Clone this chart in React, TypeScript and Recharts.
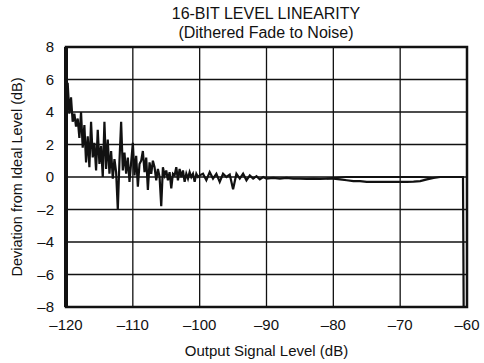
import {
  CartesianGrid,
  Line,
  LineChart,
  ReferenceArea,
  XAxis,
  YAxis,
} from "recharts";

// output level (dB) and deviation (dB) in segments
const fadeLevels = [
  -120, -119.75, -119.5, -119.25, -119, -118.75, -118.5, -118.25,
  -118, -117.75, -117.5, -117.25, -117, -116.75, -116.5, -116.25,
  -116, -115.75, -115.5, -115.25, -115, -114.75, -114.5, -114.25,
  -114, -113.75, -113.5, -113.25, -113, -112.75, -112.5, -112.25,
  -112, -111.75, -111.5, -111.25, -111, -110.75, -110.5, -110.25,
  -110, -109.75, -109.5, -109.25, -109, -108.75, -108.5, -108.25,
  -108, -107.75, -107.5, -107.25, -107, -106.75, -106.5, -106.25,
  -106, -105.75, -105.5, -105.25, -105, -104.75, -104.5, -104.25,
  -104, -103.75, -103.5, -103.25, -103, -102.75, -102.5, -102.25,
  -102, -101.75, -101.5, -101.25, -101, -100.75, -100.5, -100.25,
  -100,
];
const fadeDeviation = [
  4.2, 5.8, 3.9, 4.9, 3.4, 3.9, 3.1, 3.6,
  2.4, 4.0, 1.8, 3.2, 0.9, 2.5, 0.6, 3.4,
  1.2, 2.1, 0.4, 2.9, 0.8, 1.9, 0.0, 3.4,
  0.5, 2.3, 0.2, 1.6, -0.1, 1.1, 0.3, -2.0,
  1.0, 3.4, 0.4, 1.5, 0.2, 1.2, -0.3, 0.9,
  2.1, 0.1, 1.3, -0.6, 0.8, 1.0, 1.6, 0.3,
  1.2, -0.8, 0.9, 0.2, 1.0, 0.6, -0.2, 0.5,
  0.0, -1.8, 0.6, 0.1, 0.4, -0.2, 0.3, -0.7,
  0.2, 0.1, 0.6, -0.2, 0.5, 0.0, 0.4, -0.3,
  0.2, -0.1, 0.3, 0.0, 0.2, -0.3, 0.2, 0.0,
  0.1,
];

const midLevels = [
  -99.5, -99, -98.5, -98, -97.5, -97, -96.5, -96, -95.5, -95,
  -94.5, -94, -93.5, -93, -92.5, -92, -91.5, -91, -90.5, -90,
];
const midDeviation = [
  0.2, -0.2, 0.3, -0.1, 0.2, -0.3, 0.2, 0.0, 0.15, -0.75,
  0.2, -0.1, 0.2, -0.2, 0.1, -0.1, 0.05, -0.15, 0.0, -0.1,
];

const highLevels = [
  -89, -88, -87, -86, -85, -84, -83, -82, -81, -80,
  -79, -78, -77, -76, -75, -74, -73, -72, -71, -70,
  -69, -68, -67, -66, -65, -64, -63, -62, -61, -60.6, -60.5,
];
const highDeviation = [
  -0.05, -0.1, -0.05, -0.1, -0.1, -0.12, -0.1, -0.12, -0.1, -0.1,
  -0.15, -0.2, -0.25, -0.25, -0.3, -0.3, -0.3, -0.3, -0.3, -0.3,
  -0.3, -0.28, -0.25, -0.15, -0.05, 0, 0, 0, 0, 0, -8,
];

// second (upper) trace where the two channels part
const upperLevels = [
  -81, -80, -79, -78, -77, -76, -75, -74, -73, -72,
  -71, -70, -69, -68, -67, -66, -65,
];
const upperDeviation = [
  -0.1, -0.05, -0.02, 0, 0, 0, 0, 0, 0, 0,
  0, 0, 0, 0, 0, -0.02, -0.05,
];

const xTicks = [-120, -110, -100, -90, -80, -70, -60];
const yTicks = [-8, -6, -4, -2, 0, 2, 4, 6, 8];

const levels = [...fadeLevels, ...midLevels, ...highLevels];
const deviation = [...fadeDeviation, ...midDeviation, ...highDeviation];

const data = levels.map((level, i) => {
  const u = upperLevels.indexOf(level);
  return {
    level,
    dev: deviation[i],
    upper: u >= 0 ? upperDeviation[u] : undefined,
  };
});

const dash = (v: number) => String(v).replace("-", "\u2013");
const font = '"Liberation Sans", Arial, sans-serif';
const ink = "#111";

export default function App() {
  return (
    <div
      style={{
        position: "fixed",
        left: 0,
        top: 0,
        width: 484,
        height: 363,
        background: "#fff",
        fontFamily: font,
        color: ink,
      }}
    >
      <div
        style={{
          position: "absolute",
          left: 0,
          top: 4,
          width: 532,
          textAlign: "center",
          fontSize: 16,
          lineHeight: "19px",
        }}
      >
        <div>16-BIT LEVEL LINEARITY</div>
        <div>(Dithered Fade to Noise)</div>
      </div>
      <LineChart
        width={484}
        height={363}
        data={data}
        margin={{ top: 47, right: 17, bottom: 0, left: 8 }}
        style={{ fontFamily: font }}
      >
        <CartesianGrid stroke={ink} strokeWidth={1.3} />
        <XAxis
          dataKey="level"
          type="number"
          domain={[-120, -60]}
          ticks={xTicks}
          allowDataOverflow
          tickFormatter={dash}
          tickSize={0}
          tickMargin={12}
          height={56}
          axisLine={false}
          tick={{ fill: ink, fontSize: 15 }}
          label={{
            value: "Output Signal Level (dB)",
            position: "insideBottom",
            offset: 7,
            fill: ink,
            fontSize: 15,
          }}
        />
        <YAxis
          type="number"
          domain={[-8, 8]}
          ticks={yTicks}
          allowDataOverflow
          tickFormatter={dash}
          tickSize={0}
          tickMargin={12}
          width={58}
          axisLine={{ stroke: ink, strokeWidth: 4 }}
          tick={{ fill: ink, fontSize: 15 }}
          label={{
            value: "Deviation from Ideal Level (dB)",
            angle: -90,
            position: "center",
            dx: -20,
            fill: ink,
            fontSize: 14.5,
          }}
        />
        <ReferenceArea
          x1={-120}
          x2={-60}
          y1={-8}
          y2={8}
          fill="none"
          stroke={ink}
          strokeWidth={2.5}
          ifOverflow="visible"
        />
        <Line
          dataKey="dev"
          stroke={ink}
          strokeWidth={2.2}
          dot={false}
          type="linear"
          isAnimationActive={false}
        />
        <Line
          dataKey="upper"
          stroke={ink}
          strokeWidth={1.8}
          dot={false}
          type="linear"
          isAnimationActive={false}
        />
      </LineChart>
    </div>
  );
}
